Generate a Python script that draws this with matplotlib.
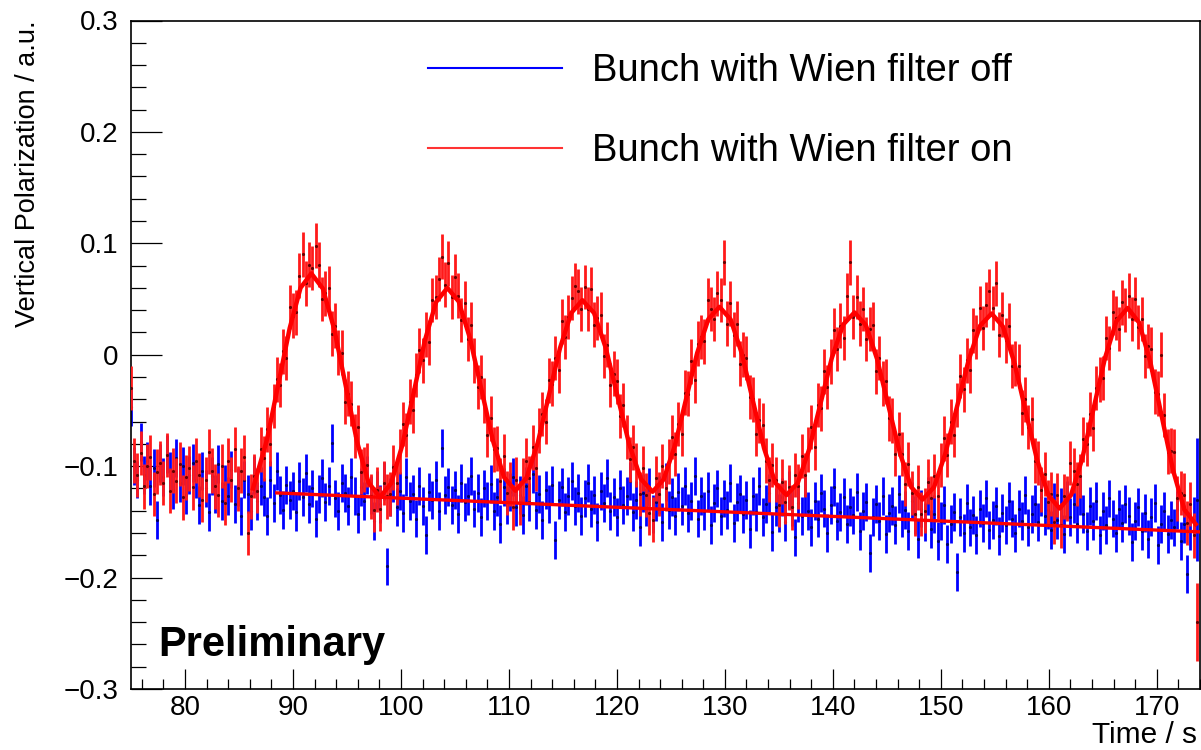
import numpy as np
import matplotlib.pyplot as plt
from matplotlib.ticker import MultipleLocator, FuncFormatter
from matplotlib.lines import Line2D

plt.rcParams['font.family'] = ['Liberation Sans', 'DejaVu Sans']

# time grid of the measurement (s)
t0 = 75.0
dt = 0.3

# vertical polarization, bunch with Wien filter off
pol_off = [
    -0.047, -0.100, -0.112, -0.078, -0.108, -0.095, -0.118, -0.102, -0.148, -0.097,
    -0.110, -0.089, -0.104, -0.121, -0.093, -0.115, -0.100, -0.126, -0.108, -0.097,
    -0.112, -0.135, -0.104, -0.120, -0.141, -0.109, -0.125, -0.098, -0.131, -0.116,
    -0.127, -0.103, -0.134, -0.119, -0.145, -0.112, -0.125, -0.140, -0.108, -0.131,
    -0.118, -0.128, -0.145, -0.112, -0.133, -0.104, -0.126, -0.139, -0.117, -0.130,
    -0.122, -0.141, -0.113, -0.128, -0.106, -0.134, -0.120, -0.147, -0.125, -0.111,
    -0.132, -0.118, -0.079, -0.129, -0.140, -0.115, -0.124, -0.136, -0.110, -0.127,
    -0.143, -0.119, -0.131, -0.108, -0.126, -0.149, -0.121, -0.134, -0.113, -0.190,
    -0.128, -0.115, -0.137, -0.122, -0.142, -0.110, -0.131, -0.125, -0.147, -0.118,
    -0.136, -0.162, -0.123, -0.130, -0.112, -0.140, -0.084, -0.126, -0.119, -0.135,
    -0.121, -0.143, -0.115, -0.132, -0.127, -0.109, -0.138, -0.124, -0.146, -0.120,
    -0.131, -0.116, -0.140, -0.128, -0.152, -0.119, -0.135, -0.123, -0.110, -0.137,
    -0.126, -0.144, -0.118, -0.132, -0.107, -0.139, -0.125, -0.148, -0.121, -0.134,
    -0.117, -0.166, -0.130, -0.119, -0.141, -0.127, -0.113, -0.136, -0.124, -0.145,
    -0.129, -0.115, -0.138, -0.126, -0.150, -0.122, -0.133, -0.111, -0.140, -0.128,
    -0.146, -0.120, -0.135, -0.127, -0.113, -0.141, -0.130, -0.155, -0.124, -0.137,
    -0.119, -0.143, -0.132, -0.126, -0.150, -0.114, -0.139, -0.128, -0.145, -0.123,
    -0.136, -0.118, -0.142, -0.131, -0.109, -0.147, -0.127, -0.140, -0.122, -0.153,
    -0.133, -0.120, -0.145, -0.129, -0.139, -0.115, -0.151, -0.132, -0.125, -0.143,
    -0.130, -0.156, -0.127, -0.141, -0.118, -0.146, -0.134, -0.124, -0.159, -0.137,
    -0.142, -0.128, -0.150, -0.121, -0.137, -0.164, -0.133, -0.145, -0.126, -0.140,
    -0.155, -0.131, -0.147, -0.124, -0.138, -0.160, -0.135, -0.119, -0.149, -0.141,
    -0.128, -0.152, -0.137, -0.144, -0.123, -0.158, -0.140, -0.132, -0.178, -0.146,
    -0.134, -0.149, -0.127, -0.161, -0.142, -0.136, -0.153, -0.125, -0.147, -0.139,
    -0.158, -0.131, -0.144, -0.165, -0.138, -0.150, -0.127, -0.156, -0.143, -0.167,
    -0.149, -0.135, -0.170, -0.152, -0.141, -0.195, -0.146, -0.160, -0.133, -0.155,
    -0.144, -0.162, -0.138, -0.151, -0.129, -0.157, -0.148, -0.136, -0.163, -0.142,
    -0.153, -0.131, -0.147, -0.160, -0.138, -0.149, -0.126, -0.155, -0.143, -0.134,
    -0.150, -0.128, -0.145, -0.139, -0.157, -0.132, -0.148, -0.137, -0.161, -0.130,
    -0.146, -0.134, -0.152, -0.127, -0.143, -0.158, -0.136, -0.149, -0.131, -0.162,
    -0.140, -0.153, -0.129, -0.147, -0.160, -0.138, -0.151, -0.134, -0.145, -0.168,
    -0.149, -0.137, -0.158, -0.142, -0.165, -0.146, -0.133, -0.171, -0.152, -0.140,
    -0.161, -0.148, -0.155, -0.139, -0.167, -0.152, -0.197, -0.158, -0.145, -0.130,
]

# vertical polarization, bunch with Wien filter on
pol_on = [
    -0.030, -0.095, -0.108, -0.088, -0.118, -0.100, -0.092, -0.125, -0.105, -0.097,
    -0.115, -0.090, -0.122, -0.104, -0.113, -0.098, -0.128, -0.110, -0.102, -0.119,
    -0.095, -0.108, -0.130, -0.112, -0.087, -0.104, -0.118, -0.126, -0.100, -0.133,
    -0.095, -0.112, -0.085, -0.120, -0.104, -0.092, -0.160, -0.127,
    -0.109, -0.122, -0.085, -0.093, -0.067, -0.080, -0.046, -0.022, -0.027, 0.003,
    -0.003, 0.043, 0.035, 0.038, 0.071, 0.090, 0.064, 0.081,
    0.078, 0.098, 0.081, 0.050, 0.055, 0.060, 0.019, 0.026, 0.002, 0.002,
    -0.042, -0.035, -0.044, -0.073, -0.065, -0.105, -0.103, -0.099, -0.127, -0.139, -0.121,
    -0.138, -0.115, -0.127, -0.125, -0.101, -0.115, -0.087, -0.062, -0.072, -0.042,
    -0.050, -0.018, 0.004, -0.005, 0.018, 0.011, 0.049, 0.052, 0.068, 0.088, 0.063,
    0.082, 0.052, 0.070, 0.053, 0.031, 0.046, 0.014, 0.027, -0.005, -0.029,
    -0.020, -0.041, -0.072, -0.057, -0.085, -0.084, -0.113, -0.091, -0.124, -0.116, -0.137,
    -0.112, -0.133, -0.113, -0.095, -0.111, -0.083, -0.102, -0.068, -0.053, -0.060,
    -0.023, -0.026, -0.003, -0.014, 0.030, 0.016, 0.034, 0.051, 0.062, 0.057, 0.041,
    0.061, 0.041, 0.059, 0.027, 0.033, 0.036, -0.001, 0.009, -0.027, -0.017,
    -0.024, -0.055, -0.045, -0.074, -0.094, -0.083, -0.099, -0.125, -0.102, -0.126, -0.142,
    -0.148, -0.111, -0.125, -0.100, -0.120, -0.096, -0.074, -0.089, -0.062, -0.071,
    -0.034, -0.035, -0.006, -0.023, 0.010, 0.016, 0.012, 0.049, 0.041, 0.032, 0.055,
    0.049, 0.083, 0.028, 0.046, 0.018, 0.028, -0.008, 0.000, -0.003, -0.038,
    -0.040, -0.071, -0.059, -0.063, -0.095, -0.112, -0.099, -0.112, -0.135, -0.114, -0.132,
    -0.119, -0.137, -0.108, -0.118, -0.091, -0.108, -0.085, -0.065, -0.083, -0.045,
    -0.048, -0.015, -0.029, -0.006, 0.022, 0.005, 0.026, 0.015, 0.053, 0.083, 0.034,
    0.052, 0.028, 0.041, 0.014, 0.023, 0.027, -0.015, -0.003, -0.026, -0.024,
    -0.057, -0.059, -0.089, -0.071, -0.089, -0.116, -0.098, -0.124, -0.143, -0.119, -0.143,
    -0.140, -0.114, -0.129, -0.109, -0.127, -0.099, -0.075, -0.090, -0.060, -0.072,
    -0.045, -0.019, -0.031, -0.005, -0.014, 0.022, 0.016, 0.042, 0.024, 0.045, 0.057,
    0.042, 0.064, 0.018, 0.036, 0.013, 0.026, -0.010, -0.008, -0.010, -0.052,
    -0.040, -0.065, -0.058, -0.095, -0.097, -0.121, -0.107, -0.132, -0.125, -0.150, -0.126,
    -0.153, -0.127, -0.129, -0.097, -0.104, -0.116, -0.109, -0.076, -0.080, -0.053,
    -0.066, -0.030, -0.022, -0.021, 0.015, 0.006, 0.038, 0.033, 0.023, 0.047, 0.040,
    0.053, 0.032, 0.050, 0.025, 0.032, -0.001, 0.008, 0.005, -0.033, -0.035,
    0.000, -0.054, -0.087, -0.086, -0.087, -0.129, -0.124, -0.126, -0.151, -0.134, -0.162,
    -0.240,
]

# typical statistical errors; the last bin has fewer events
err_off = 0.017
err_on = 0.020
err_off_last = 0.055
err_on_last = 0.035

# oscillation fit (Wien filter on)
fit_t = [86.3, 87.6, 88.65, 89.7, 90.7, 91.7,
         92.76, 93.82, 94.88, 95.93, 96.99, 98.05,
         99.09, 100.13, 101.18, 102.22, 103.26, 104.3,
         105.35, 106.4, 107.45, 108.5, 109.55, 110.6,
         111.63, 112.67, 113.7, 114.73, 115.77, 116.8,
         117.88, 118.97, 120.05, 121.13, 122.22, 123.3,
         124.33, 125.37, 126.4, 127.43, 128.47, 129.5,
         130.53, 131.57, 132.6, 133.63, 134.67, 135.7,
         136.75, 137.8, 138.85, 139.9, 140.95, 142.0,
         143.05, 144.1, 145.15, 146.2, 147.25, 148.3,
         149.37, 150.43, 151.5, 152.57, 153.63, 154.7,
         155.75, 156.8, 157.85, 158.9, 159.95, 161.0,
         162.05, 163.1, 164.15, 165.2, 166.25, 167.3,
         168.35, 169.4, 170.45, 171.5, 172.55, 173.6]
fit_pol = [-0.120, -0.076, -0.026, 0.024, 0.060, 0.073,
           0.0595, 0.023, -0.0275, -0.078, -0.1145, -0.128,
           -0.1154, -0.081, -0.034, 0.013, 0.0474, 0.060,
           0.0478, 0.0145, -0.031, -0.0765, -0.110, -0.122,
           -0.1105, -0.079, -0.0365, 0.006, 0.0375, 0.049,
           0.0375, 0.006, -0.037, -0.080, -0.1115, -0.123,
           -0.1119, -0.0815, -0.040, 0.0015, 0.032, 0.043,
           0.0317, 0.001, -0.0415, -0.084, -0.115, -0.126,
           -0.115, -0.085, -0.044, -0.003, 0.027, 0.038,
           0.0267, -0.004, -0.046, -0.088, -0.1187, -0.130,
           -0.1188, -0.0882, -0.0465, -0.005, 0.026, 0.037,
           0.0253, -0.0068, -0.0505, -0.094, -0.126, -0.138,
           -0.126, -0.093, -0.048, -0.003, 0.030, 0.042,
           0.029, -0.0065, -0.055, -0.1035, -0.139, -0.152]

# linear fit (Wien filter off)
lin_t = [88.5, 174.0]
lin_pol = [-0.124, -0.159]

t_off = t0 + dt * np.arange(len(pol_off))
t_on = t0 + dt * np.arange(len(pol_on))
e_off = np.full(len(pol_off), err_off)
e_off[-1] = err_off_last
e_on = np.full(len(pol_on), err_on)
e_on[-1] = err_on_last

fig = plt.figure(figsize=(12.01, 7.5), dpi=100)
ax = fig.add_axes([131 / 1201, 61 / 750, 1069 / 1201, 668.5 / 750])

ax.errorbar(t_off, pol_off, yerr=e_off, fmt='.', ms=2.5, color='#0000ff',
            mfc='#000066', mec='#000066', elinewidth=2.0, capsize=0, zorder=2)
ax.errorbar(t_on, pol_on, yerr=e_on, fmt='.', ms=2.5, color='#ff1a1a',
            mfc='#660000', mec='#660000', elinewidth=2.0, capsize=0, zorder=3)
ax.plot(fit_t, fit_pol, color='#ff0000', lw=3.2, zorder=4)
ax.plot(lin_t, lin_pol, color='#ff0000', lw=2.4, zorder=5)

ax.set_xlim(75, 174)
ax.set_ylim(-0.3, 0.3)
ax.set_xticks(np.arange(80, 171, 10))
ax.xaxis.set_minor_locator(MultipleLocator(2))
ax.set_yticks(np.arange(-0.3, 0.31, 0.1))
ax.yaxis.set_minor_locator(MultipleLocator(0.02))
ax.yaxis.set_major_formatter(FuncFormatter(
    lambda v, p: '0' if abs(v) < 1e-9 else f'{v:.1f}'.replace('-', '\u2212')))

ax.tick_params(axis='x', which='major', direction='in', length=14.4, width=0.9,
               labelsize=20, pad=4)
ax.tick_params(axis='x', which='minor', direction='in', length=7.2, width=0.9)
ax.tick_params(axis='y', which='major', direction='in', length=22.3, width=0.9,
               labelsize=20, pad=9)
ax.tick_params(axis='y', which='minor', direction='in', length=10.8, width=0.9)
for s in ax.spines.values():
    s.set_linewidth(1.2)

fig.text(28.5 / 1201, 1 - 20 / 750, 'Vertical Polarization / a.u.', rotation=90,
         ha='center', va='top', fontsize=19.5)
fig.text(1197 / 1201, 7 / 750, 'Time / s', ha='right', va='baseline', fontsize=21.5)

ax.text(0.0253, 0.049, 'Preliminary', transform=ax.transAxes, fontsize=30,
        fontweight='bold', va='baseline', ha='left')

handles = [Line2D([], [], color='#0000ff', lw=1.5),
           Line2D([], [], color='#ff3333', lw=1.5)]
ax.legend(handles, ['Bunch with Wien filter off', 'Bunch with Wien filter on'],
          loc='upper left', bbox_to_anchor=(428 / 1201, 1 - 53 / 750),
          bbox_transform=fig.transFigure, frameon=False, fontsize=27.5,
          handlelength=3.5, handletextpad=0.8, labelspacing=1.16,
          borderpad=0, borderaxespad=0)

plt.savefig('out.png', dpi=100)
